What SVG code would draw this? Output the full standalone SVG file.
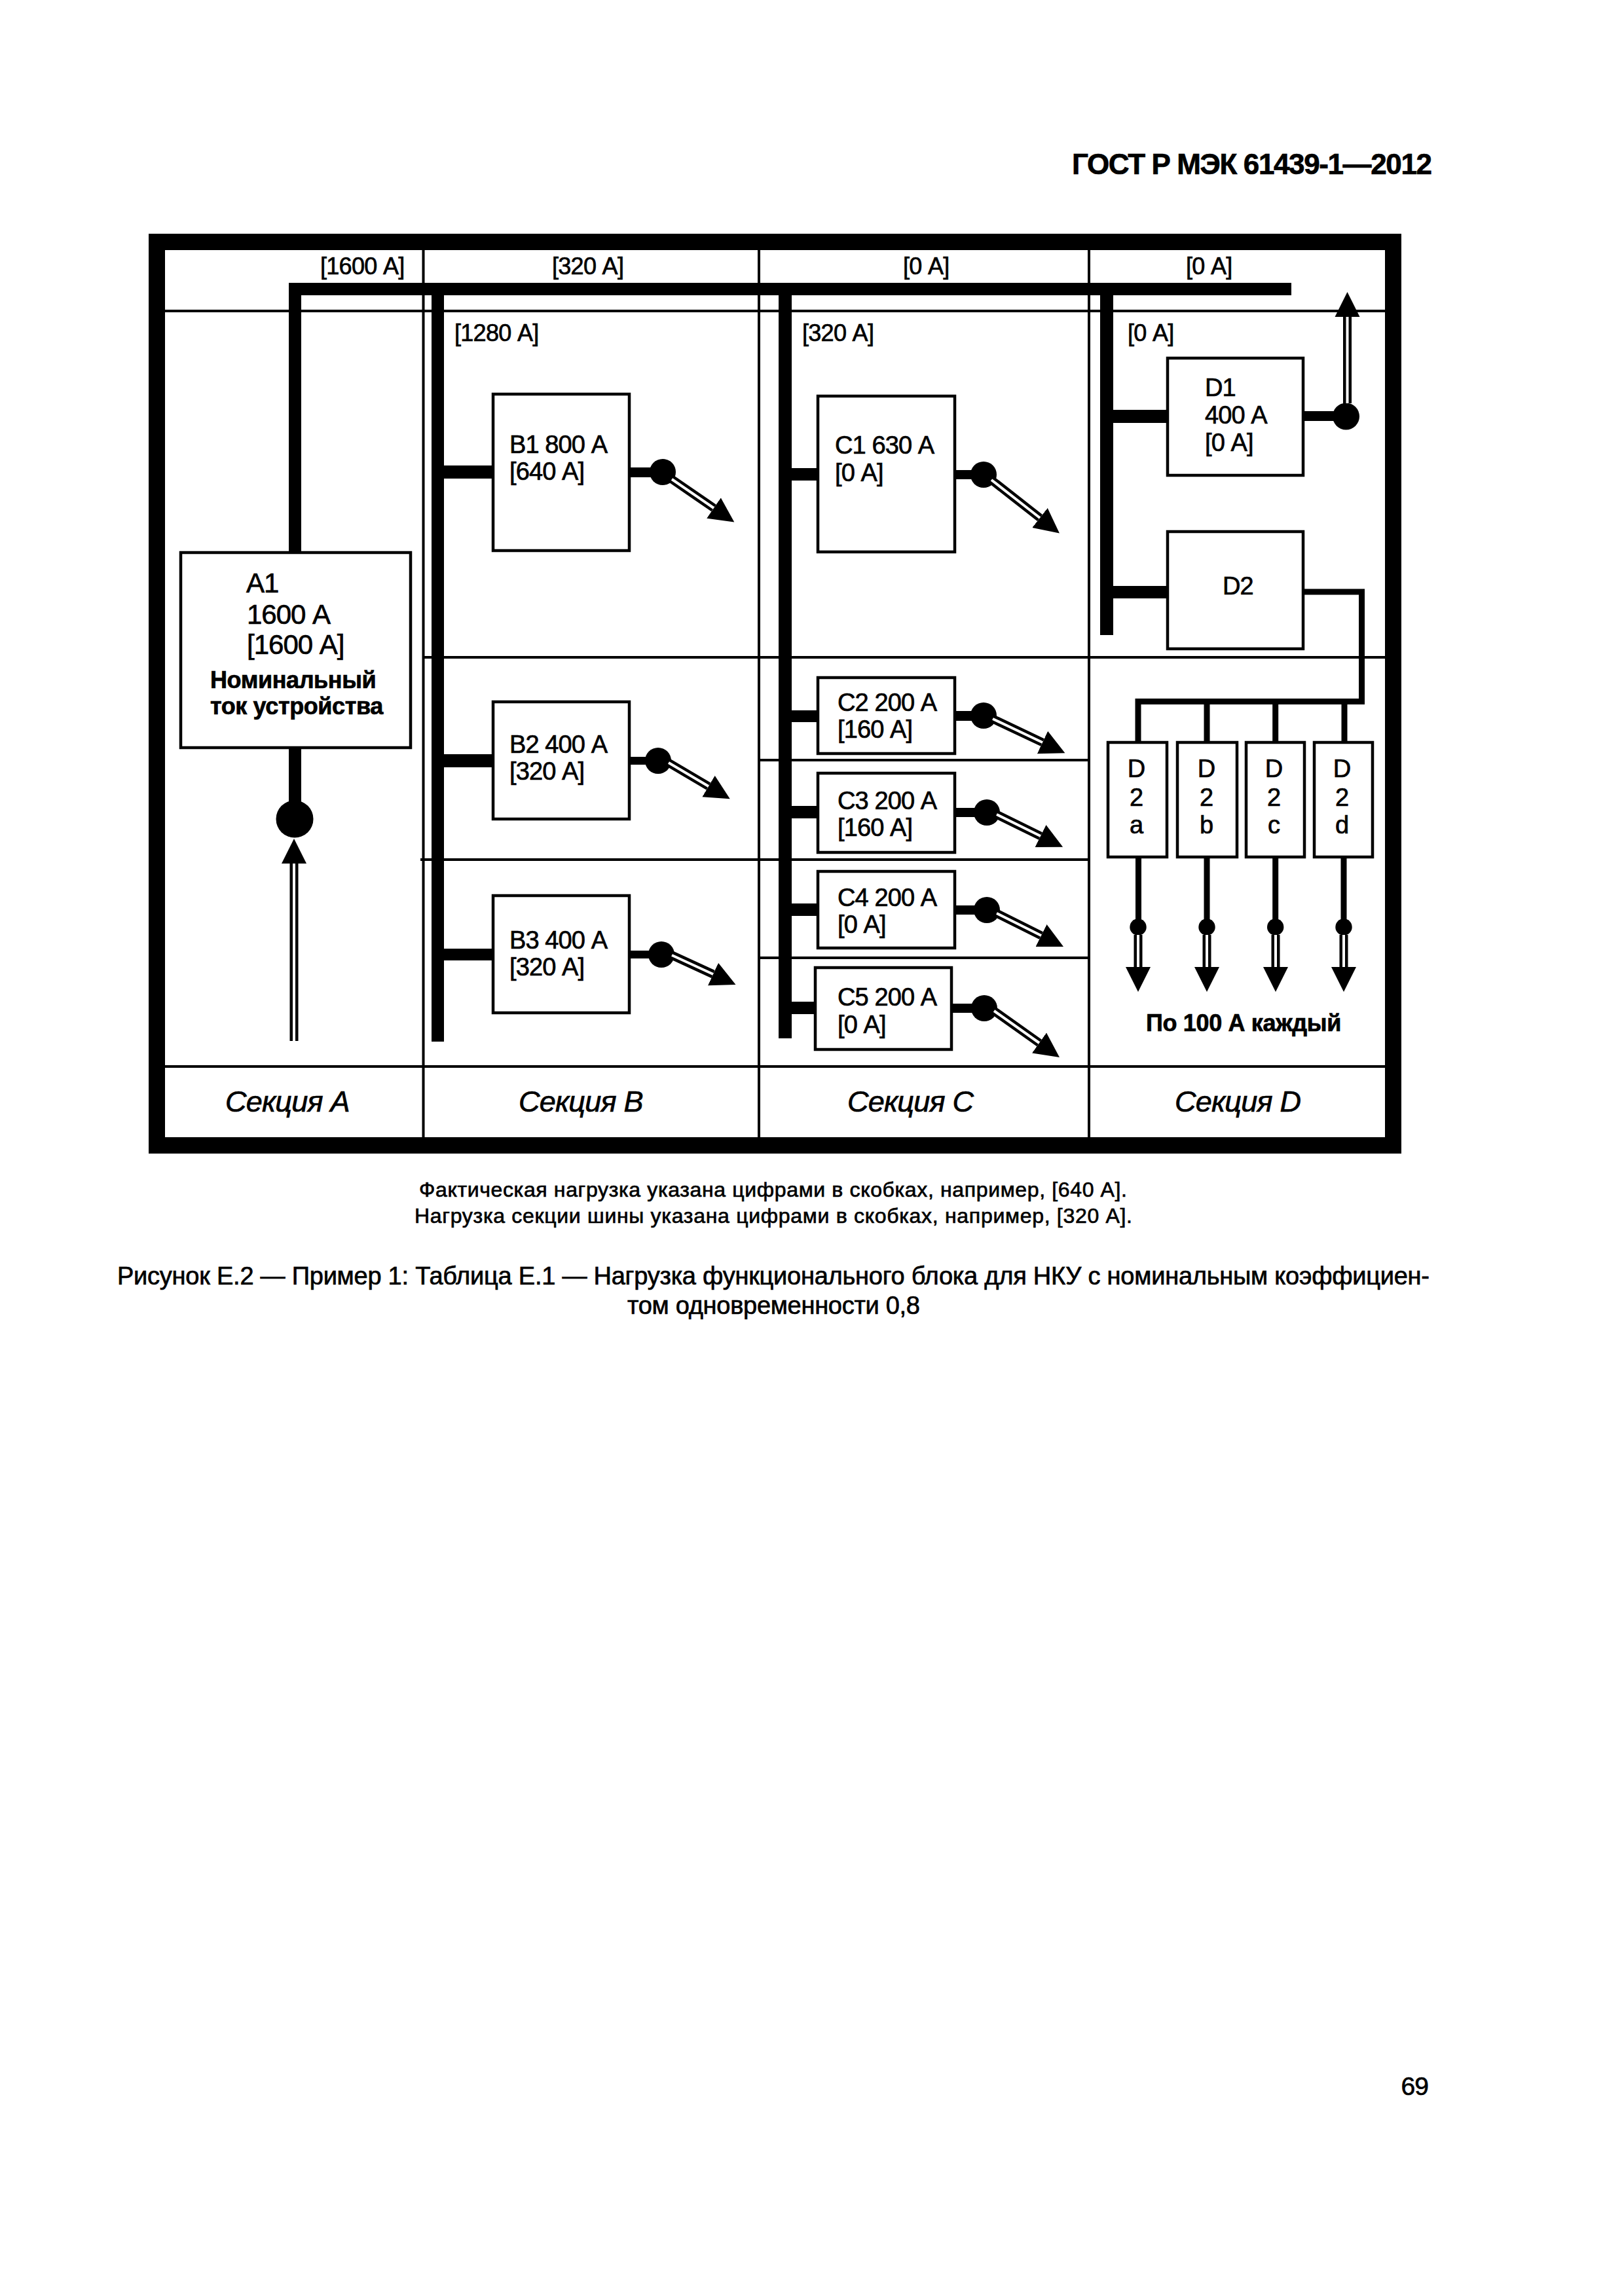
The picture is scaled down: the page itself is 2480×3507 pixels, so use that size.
<svg xmlns="http://www.w3.org/2000/svg" width="2480" height="3507" viewBox="0 0 2480 3507">
<style>
text{font-family:"Liberation Sans",Arial,sans-serif;fill:#000;stroke:#000;stroke-width:.7px}
.h{font-size:36px;letter-spacing:-.7px}
.t{font-size:38px;letter-spacing:-.9px}
.a{font-size:42px;letter-spacing:-1px}
.b{font-size:36px;font-weight:bold;letter-spacing:-.4px}
.s{font-size:45px;font-style:italic;letter-spacing:-.8px}
.n{font-size:32px}
.c{font-size:38px}
.m{text-anchor:middle}
.box{fill:#fff;stroke:#000;stroke-width:4.5}
.grid{stroke:#000;stroke-width:4;fill:none}
.bus{fill:#000}
.wire{stroke:#000;stroke-width:9;fill:none}
.dot{fill:#000}
.dbl{stroke:#000;stroke-width:13;fill:none;marker-end:url(#head)}
.core{stroke:#fff;stroke-width:4;fill:none}
</style>
<defs>
<marker id="head" markerUnits="userSpaceOnUse" markerWidth="40" markerHeight="40" refX="0" refY="20" orient="auto" viewBox="0 0 40 40"><path d="M0,1 L38,20 L0,39 Z" fill="#000"/></marker>
</defs>
<rect x="0" y="0" width="2480" height="3507" fill="#fff"/>
<g id="page-text">
<text x="1637" y="266" font-size="44" font-weight="bold" textLength="550">ГОСТ Р МЭК 61439-1—2012</text>
<text x="2181" y="3200" font-size="39" letter-spacing="-1" text-anchor="end">69</text>
<text class="n" x="640" y="1828" textLength="1081">Фактическая нагрузка указана цифрами в скобках, например, [640 А].</text>
<text class="n" x="633" y="1868" textLength="1096">Нагрузка секции шины указана цифрами в скобках, например, [320 А].</text>
<text class="c" x="179" y="1962" textLength="2004">Рисунок Е.2 — Пример 1: Таблица Е.1 — Нагрузка функционального блока для НКУ с номинальным коэффициен-</text>
<text class="c" x="958" y="2007" textLength="447">том одновременности 0,8</text>
</g>
<g id="frame">
<rect x="239.5" y="369.5" width="1888" height="1380" fill="none" stroke="#000" stroke-width="25"/>
<path class="grid" d="M646.5,382V1738M1159,382V1738M1663,382V1738M252,475H2115M646,1004H2115M642,1313H1663M1157,1161H1663M1157,1463H1663M252,1629H2115"/>
</g>
<g id="connectors">
<g id="busbars">
<rect class="bus" x="441" y="432" width="1531" height="19"/>
<rect class="bus" x="441" y="432" width="19" height="411"/>
<rect class="bus" x="441" y="1143" width="19" height="90"/>
<g transform="translate(2 0)">
<rect class="bus" x="657" y="451" width="19" height="1140"/>
<rect class="bus" x="1187" y="451" width="20" height="1135"/>
<rect class="bus" x="1678" y="451" width="20" height="519"/>
<rect class="bus" x="676" y="711" width="76" height="20"/>
<rect class="bus" x="676" y="1152" width="76" height="20"/>
<rect class="bus" x="676" y="1449" width="76" height="18"/>
<rect class="bus" x="1207" y="715" width="41" height="19"/>
<rect class="bus" x="1207" y="1085" width="41" height="18"/>
<rect class="bus" x="1207" y="1231" width="41" height="19"/>
<rect class="bus" x="1207" y="1380" width="41" height="19"/>
<rect class="bus" x="1207" y="1530" width="38" height="19"/>
<rect class="bus" x="1698" y="626" width="83" height="20"/>
<rect class="bus" x="1698" y="895" width="83" height="19"/>
<rect class="bus" x="960" y="714" width="50" height="15"/>
<rect class="bus" x="958" y="1156" width="45" height="12"/>
<rect class="bus" x="960" y="1452" width="48" height="12"/>
<rect class="bus" x="1457" y="718" width="43" height="14"/>
<rect class="bus" x="1457" y="1086" width="43" height="15"/>
<rect class="bus" x="1457" y="1234" width="48" height="14"/>
<rect class="bus" x="1457" y="1383" width="48" height="14"/>
<rect class="bus" x="1451" y="1533" width="51" height="14"/>
<rect class="bus" x="1986" y="628" width="68" height="15"/>
<path class="wire" d="M1988,904H2077.5V1071.5H1736V1134M1841,1071.5V1134M1945.7,1071.5V1134M2051,1071.5V1134M1736.5,1309V1416M1841,1309V1416M1945.7,1309V1416M2050,1309V1416"/>
</g>
</g>
<g id="feeds">
<circle class="dot" cx="450" cy="1251" r="28.5"/>
<line class="dbl" x1="449" y1="1590" x2="449" y2="1319"/><line class="core" x1="449" y1="1590" x2="449" y2="1319"/>
<g transform="translate(2 0)">
<circle class="dot" cx="1010" cy="721" r="20"/>
<line class="dbl" x1="1024" y1="732" x2="1088" y2="776"/><line class="core" x1="1024" y1="732" x2="1088" y2="776"/>
<circle class="dot" cx="1003" cy="1162" r="20"/>
<line class="dbl" x1="1019" y1="1165" x2="1080" y2="1201"/><line class="core" x1="1019" y1="1165" x2="1080" y2="1201"/>
<circle class="dot" cx="1008" cy="1458" r="20"/>
<line class="dbl" x1="1024" y1="1459" x2="1087" y2="1488"/><line class="core" x1="1024" y1="1459" x2="1087" y2="1488"/>
<circle class="dot" cx="1500" cy="725" r="20"/>
<line class="dbl" x1="1512" y1="733" x2="1586" y2="791"/><line class="core" x1="1512" y1="733" x2="1586" y2="791"/>
<circle class="dot" cx="1500" cy="1093" r="20"/>
<line class="dbl" x1="1514" y1="1098" x2="1590" y2="1134"/><line class="core" x1="1514" y1="1098" x2="1590" y2="1134"/>
<circle class="dot" cx="1505" cy="1241" r="20"/>
<line class="dbl" x1="1520" y1="1244" x2="1587" y2="1277"/><line class="core" x1="1520" y1="1244" x2="1587" y2="1277"/>
<circle class="dot" cx="1505" cy="1390" r="20"/>
<line class="dbl" x1="1520" y1="1395" x2="1588" y2="1429"/><line class="core" x1="1520" y1="1395" x2="1588" y2="1429"/>
<circle class="dot" cx="1501" cy="1540" r="20"/>
<line class="dbl" x1="1516" y1="1544" x2="1585" y2="1593"/><line class="core" x1="1516" y1="1544" x2="1585" y2="1593"/>
<circle class="dot" cx="2053.5" cy="636" r="20.5"/>
<line class="dbl" x1="2055.5" y1="616" x2="2055.5" y2="484"/><line class="core" x1="2055.5" y1="616" x2="2055.5" y2="484"/>
<circle class="dot" cx="1736" cy="1416" r="12.7"/>
<line class="dbl" x1="1736" y1="1428" x2="1736" y2="1477"/><line class="core" x1="1736" y1="1428" x2="1736" y2="1477"/>
<circle class="dot" cx="1841" cy="1416" r="12.7"/>
<line class="dbl" x1="1841" y1="1428" x2="1841" y2="1477"/><line class="core" x1="1841" y1="1428" x2="1841" y2="1477"/>
<circle class="dot" cx="1945.7" cy="1416" r="12.7"/>
<line class="dbl" x1="1946" y1="1428" x2="1946" y2="1477"/><line class="core" x1="1946" y1="1428" x2="1946" y2="1477"/>
<circle class="dot" cx="2050" cy="1416" r="12.7"/>
<line class="dbl" x1="2050" y1="1428" x2="2050" y2="1477"/><line class="core" x1="2050" y1="1428" x2="2050" y2="1477"/>
</g>
</g>
</g>
<g id="loads">
<text class="h" x="489" y="419">[1600 А]</text>
<text class="h" x="843" y="419">[320 А]</text>
<text class="h" x="1379" y="419">[0 А]</text>
<text class="h" x="1811" y="419">[0 А]</text>
<text class="h" x="694" y="521">[1280 А]</text>
<text class="h" x="1225" y="521">[320 А]</text>
<text class="h" x="1722" y="521">[0 А]</text>
</g>
<g id="node-A1"><rect class="box" x="276" y="844" width="351" height="298"/>
<text class="a" x="376" y="905">А1</text><text class="a" x="377" y="953">1600 А</text><text class="a" x="377" y="999">[1600 А]</text>
<text class="b" x="321" y="1051">Номинальный</text><text class="b" x="321" y="1091">ток устройства</text></g>
<g id="node-B1" transform="translate(2 0)"><rect class="box" x="751" y="602" width="208" height="239"/><text class="t" x="776" y="692">В1 800 А</text><text class="t" x="776" y="733">[640 А]</text></g>
<g id="node-B2" transform="translate(2 0)"><rect class="box" x="751" y="1072" width="208" height="179"/><text class="t" x="776" y="1150">В2 400 А</text><text class="t" x="776" y="1191">[320 А]</text></g>
<g id="node-B3" transform="translate(2 0)"><rect class="box" x="751" y="1368" width="208" height="179"/><text class="t" x="776" y="1449">В3 400 А</text><text class="t" x="776" y="1490">[320 А]</text></g>
<g id="node-C1" transform="translate(2 0)"><rect class="box" x="1247" y="605" width="209" height="238"/><text class="t" x="1273" y="693">С1 630 А</text><text class="t" x="1273" y="735">[0 А]</text></g>
<g id="node-C2" transform="translate(2 0)"><rect class="box" x="1247" y="1035" width="209" height="116"/><text class="t" x="1277" y="1086">С2 200 А</text><text class="t" x="1277" y="1127">[160 А]</text></g>
<g id="node-C3" transform="translate(2 0)"><rect class="box" x="1247" y="1181" width="209" height="121"/><text class="t" x="1277" y="1236">С3 200 А</text><text class="t" x="1277" y="1277">[160 А]</text></g>
<g id="node-C4" transform="translate(2 0)"><rect class="box" x="1247" y="1331" width="209" height="117"/><text class="t" x="1277" y="1384">С4 200 А</text><text class="t" x="1277" y="1425">[0 А]</text></g>
<g id="node-C5" transform="translate(2 0)"><rect class="box" x="1243" y="1478" width="208" height="125"/><text class="t" x="1277" y="1536">С5 200 А</text><text class="t" x="1277" y="1578">[0 А]</text></g>
<g id="node-D1" transform="translate(2 0)"><rect class="box" x="1781" y="547" width="207" height="179"/><text class="t" x="1838" y="605">D1</text><text class="t" x="1838" y="647">400 А</text><text class="t" x="1838" y="689">[0 А]</text></g>
<g id="node-D2" transform="translate(2 0)"><rect class="box" x="1781" y="812" width="207" height="179"/><text class="t" x="1865" y="908">D2</text></g>
<g id="node-D2a" transform="translate(2 0)"><rect class="box" x="1690" y="1134" width="90" height="175"/><text class="t m" x="1733" y="1187">D</text><text class="t m" x="1733" y="1231">2</text><text class="t m" x="1733" y="1273">a</text></g>
<g id="node-D2b" transform="translate(2 0)"><rect class="box" x="1796" y="1134" width="91" height="175"/><text class="t m" x="1840" y="1187">D</text><text class="t m" x="1840" y="1231">2</text><text class="t m" x="1840" y="1273">b</text></g>
<g id="node-D2c" transform="translate(2 0)"><rect class="box" x="1901" y="1134" width="89" height="175"/><text class="t m" x="1943" y="1187">D</text><text class="t m" x="1943" y="1231">2</text><text class="t m" x="1943" y="1273">c</text></g>
<g id="node-D2d" transform="translate(2 0)"><rect class="box" x="2005" y="1134" width="89" height="175"/><text class="t m" x="2047" y="1187">D</text><text class="t m" x="2047" y="1231">2</text><text class="t m" x="2047" y="1273">d</text></g>
<text class="b" x="1750" y="1575" textLength="298">По 100 А каждый</text>
<g id="section-labels">
<text class="s" x="344" y="1698">Секция А</text>
<text class="s" x="792" y="1698">Секция В</text>
<text class="s" x="1294" y="1698">Секция С</text>
<text class="s" x="1794" y="1698">Секция D</text>
</g>
</svg>
